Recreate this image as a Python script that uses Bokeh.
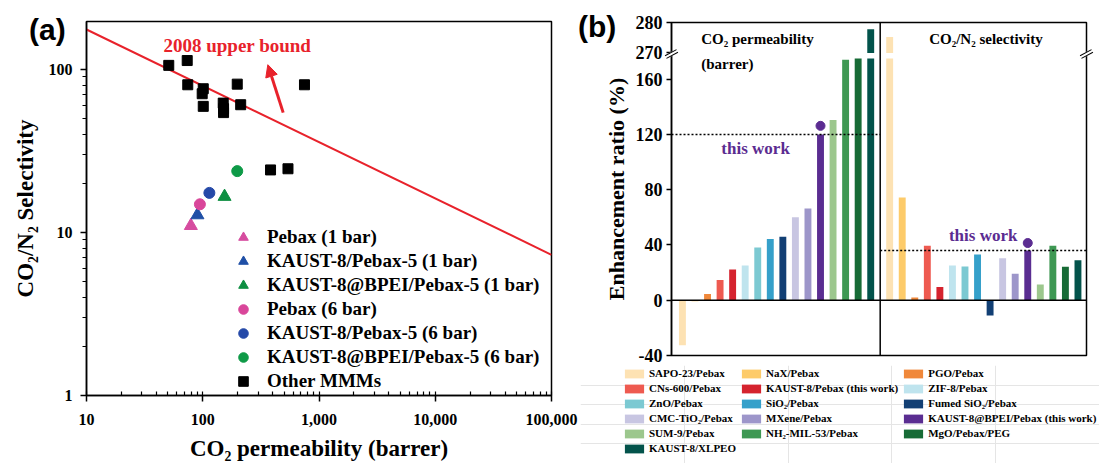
from bokeh.plotting import figure
from bokeh.models import (Legend, LegendItem, Arrow, NormalHead, Span, Div,
                          FixedTicker, NumeralTickFormatter, ColumnDataSource)
from bokeh.layouts import row, column
from bokeh.embed import file_html
from bokeh.resources import INLINE
from bokeh.core.properties import value

# ---------------- data: panel (a) ----------------
own_labels = ["Pebax (1 bar)", "KAUST-8/Pebax-5 (1 bar)", "KAUST-8@BPEI/Pebax-5 (1 bar)",
              "Pebax (6 bar)", "KAUST-8/Pebax-5 (6 bar)", "KAUST-8@BPEI/Pebax-5 (6 bar)"]
own_perm = [79, 90, 154, 94.5, 114, 198]
own_sel = [11.0, 12.8, 16.6, 14.9, 17.5, 23.8]
other_label = "Other MMMs"
other_perm = [51, 73.5, 74.3, 101, 98.9, 101, 150, 151, 151, 198, 212, 750, 383, 541]
other_sel = [106, 113.5, 80.6, 76.2, 71, 59.4, 62.2, 57.5, 54.4, 81.3, 60.8, 80.6, 24.2, 24.6]
bound_perm = [10, 100000]
bound_sel = [176, 7.3]

# ---------------- data: panel (b) ----------------
materials = ["SAPO-23/Pebax", "NaX/Pebax", "PGO/Pebax", "CNs-600/Pebax",
             "KAUST-8/Pebax (this work)", "ZIF-8/Pebax", "ZnO/Pebax", "SiO₂/Pebax",
             "Fumed SiO₂/Pebax", "CMC-TiO₂/Pebax", "MXene/Pebax",
             "KAUST-8@BPEI/Pebax (this work)", "SUM-9/Pebax", "NH₂-MIL-53/Pebax",
             "MgO/Pebax/PEG", "KAUST-8/XLPEO"]
perm_ratio = [-32.6, -0.7, 4.5, 14.6, 22.3, 25.1, 38.1, 44.3, 46.0, 60.1, 66.3,
              120.0, 130.5, 174.1, 174.9, 277.8]
sel_ratio = [275.2, 74.3, 1.9, 39.5, 9.6, 25.1, 24.4, 33.1, -11.0, 30.4, 19.2,
             36.0, 11.3, 39.5, 24.2, 29.0]
this_work_index = 11
this_work_marker = [126.2, 41.4]

# ---------------- styles ----------------
SERIF = "Liberation Serif"
SANS = "Liberation Sans"
RED = "#E8222B"
PURPLE = "#5B2C91"
own_markers = ["triangle", "triangle", "triangle", "circle", "circle", "circle"]
own_colors = ["#D64C9F", "#1F4FA6", "#0E8F42", "#D9469A", "#2549A8", "#0E9A47"]
bar_colors = ["#FDE2B3", "#FDCB6A", "#F0883A", "#EE5A50", "#D5232E", "#BFE4EE",
              "#7CC9D2", "#35A0CA", "#123F74", "#C8C6E2", "#9D96CA", "#5A2D91",
              "#9CC78D", "#3E9853", "#176B36", "#03534B"]

# ================= panel (a) =================
pa = figure(width=580, height=463, x_axis_type="log", y_axis_type="log",
            x_range=(10, 100000), y_range=(1, 197),
            output_backend="svg", toolbar_location=None,
            min_border_left=86, min_border_right=29, min_border_top=21, min_border_bottom=67)
pa.xgrid.visible = False
pa.ygrid.visible = False
pa.outline_line_color = "black"
pa.outline_line_width = 1.5
pa.outline_line_alpha = 1
pa.background_fill_color = "white"
pa.border_fill_color = "white"

for ax in (pa.xaxis[0], pa.yaxis[0]):
    ax.formatter = NumeralTickFormatter(format="0,0")
    ax.axis_line_width = 1.5
    ax.major_tick_line_width = 1.5
    ax.minor_tick_line_width = 1.2
    ax.major_tick_in = 0
    ax.major_label_text_font = SERIF
    ax.major_label_text_font_style = "bold"
    ax.major_label_text_font_size = "16px"
    ax.major_label_text_color = "black"
    ax.axis_label_text_font = SERIF
    ax.axis_label_text_font_style = "bold"
    ax.axis_label_text_font_size = "23px"
    ax.axis_label_text_color = "black"

xa = pa.xaxis[0]
xa.major_tick_out = 6
xa.minor_tick_in = 4
xa.minor_tick_out = 0
xa.major_label_standoff = 12
xa.axis_label_standoff = 8
xa.axis_label = "CO₂ permeability (barrer)"

ya = pa.yaxis[0]
ya.major_tick_out = 6
ya.minor_tick_out = 4
ya.minor_tick_in = 0
ya.major_label_standoff = 8
ya.axis_label_standoff = 8
ya.axis_label = "CO₂/N₂ Selectivity"

pa.line(bound_perm, bound_sel, line_color=RED, line_width=2)
pa.text(x=[45.9], y=[140], text=["2008 upper bound"], text_font=value(SERIF),
        text_font_style="bold", text_font_size="19px", text_color=RED,
        text_baseline="middle", text_align="left")
pa.add_layout(Arrow(end=NormalHead(size=12, fill_color=RED, line_color=RED, line_width=1),
                    x_start=492, y_start=54.4, x_end=363, y_end=107,
                    line_color=RED, line_width=3))

items_a = []
for lab, xv, yv, mk, col in zip(own_labels, own_perm, own_sel, own_markers, own_colors):
    r = pa.scatter([xv], [yv], marker=mk, size=13 if mk == "triangle" else 11,
                   fill_color=col, line_color=col)
    items_a.append(LegendItem(label=lab, renderers=[r]))
r_other = pa.scatter(other_perm, other_sel, marker="square", size=10,
                     fill_color="black", line_color="black")
items_a.append(LegendItem(label=other_label, renderers=[r_other]))

lga = Legend(items=items_a, location=(144, 2), glyph_width=26, glyph_height=24,
             label_height=24, label_standoff=11, spacing=0, padding=0, margin=0,
             border_line_color=None, background_fill_alpha=0,
             label_text_font=SERIF, label_text_font_style="bold",
             label_text_font_size="19px", label_text_color="black")
pa.add_layout(lga)

# ================= panel (b) =================
BRK_LO, BRK_HI, TOP, GAP, K = 175, 270, 280, 4, 2.2


def disp(v):
    if v <= BRK_LO:
        return v
    return round(BRK_LO + GAP + (v - BRK_HI) * K, 6)


n = len(materials)
lead = 0.87
group_gap = 1.51
perm_x = [lead + i for i in range(n)]
sel_x = [perm_x[-1] + group_gap + i for i in range(n)]
divider = (perm_x[-1] + sel_x[0]) / 2
x_end = sel_x[-1] + 0.68

pb = figure(width=519, height=365, x_range=(0, x_end), y_range=(-40, disp(TOP)),
            output_backend="svg", toolbar_location=None, x_axis_location=None,
            min_border_left=91, min_border_right=13, min_border_top=22, min_border_bottom=10)
pb.xgrid.visible = False
pb.ygrid.visible = False
pb.outline_line_color = "black"
pb.outline_line_width = 1.5
pb.outline_line_alpha = 1
pb.background_fill_color = "white"
pb.border_fill_color = "white"

ay = pb.yaxis[0]
ticks = [-40, 0, 40, 80, 120, 160, disp(270), disp(280)]
ay.ticker = FixedTicker(ticks=ticks, minor_ticks=[])
ay.major_label_overrides = {-40: "-40", disp(270): "270", disp(280): "280"}
ay.axis_line_width = 1.5
ay.major_tick_line_width = 1.5
ay.major_tick_in = 0
ay.major_tick_out = 5
ay.minor_tick_in = 0
ay.minor_tick_out = 0
ay.major_label_standoff = 4
ay.major_label_text_font = SERIF
ay.major_label_text_font_style = "bold"
ay.major_label_text_font_size = "18px"
ay.major_label_text_color = "black"
ay.axis_label = "Enhancement ratio (%)"
ay.axis_label_text_font = SERIF
ay.axis_label_text_font_style = "bold"
ay.axis_label_text_font_size = "22px"
ay.axis_label_text_color = "black"
ay.axis_label_standoff = 4

all_x = perm_x + sel_x
all_v = perm_ratio + sel_ratio
all_c = bar_colors + bar_colors
low_src = ColumnDataSource(dict(x=all_x, top=[min(v, BRK_LO) for v in all_v], color=all_c))
pb.vbar(x="x", top="top", bottom=0, width=0.55, fill_color="color",
        line_color=None, source=low_src)
hi = [(x, v, c) for x, v, c in zip(all_x, all_v, all_c) if v > BRK_LO]
hi_src = ColumnDataSource(dict(x=[h[0] for h in hi], top=[disp(h[1]) for h in hi],
                               color=[h[2] for h in hi]))
pb.vbar(x="x", top="top", bottom=BRK_LO + GAP, width=0.55, fill_color="color",
        line_color=None, source=hi_src)

pb.add_layout(Span(location=0, dimension="width", line_color="black", line_width=1.5))
pb.add_layout(Span(location=divider, dimension="height", line_color="black", line_width=1.5))

tw_vals = [perm_ratio[this_work_index], sel_ratio[this_work_index]]
pb.segment(x0=[0, divider], x1=[divider, x_end], y0=tw_vals, y1=tw_vals,
           line_color="black", line_width=1.5, line_dash="2 2")
pb.scatter([perm_x[this_work_index], sel_x[this_work_index]], this_work_marker,
           marker="circle", size=9, fill_color=PURPLE, line_color=PURPLE)

pb.text(x=[6.7, 24.83], y=[109.8, 46.5], text=["this work", "this work"],
        text_font=value(SERIF), text_font_style="bold", text_font_size="17px",
        text_color=PURPLE, text_align="center", text_baseline="middle")
pb.text(x=[2.37, 2.37], y=[189.1, 170.8], text=["CO₂ permeability", "(barrer)"],
        text_font=value(SERIF), text_font_style="bold", text_font_size="15px",
        text_color="black", text_align="left", text_baseline="middle")
pb.text(x=[25.05], y=[189.1], text=["CO₂/N₂ selectivity"],
        text_font=value(SERIF), text_font_style="bold", text_font_size="15px",
        text_color="black", text_align="center", text_baseline="middle")

# ---------- legend of panel (b), in its own strip below ----------
lf = figure(width=519, height=98, x_range=(0, 1), y_range=(0, 1),
            output_backend="svg", toolbar_location=None,
            x_axis_location=None, y_axis_location=None,
            min_border_left=0, min_border_right=0, min_border_top=0, min_border_bottom=0)
lf.outline_line_color = None
lf.outline_line_alpha = 0
lf.background_fill_color = "white"
lf.border_fill_color = "white"
key_src = ColumnDataSource(dict(x=[0.5] * n, top=[0.0] * n, color=bar_colors))
r_key = lf.vbar(x="x", top="top", bottom=0, width=0.01, fill_color="color",
                line_color=None, source=key_src)
items_b = [LegendItem(label=m, renderers=[r_key], index=i) for i, m in enumerate(materials)]
lgb = Legend(items=items_b, location=(42, 9), orientation="horizontal", ncols=3,
             glyph_width=24, glyph_height=11, label_height=11, label_standoff=3,
             spacing=3, padding=0, margin=0, border_line_color=None,
             background_fill_color=None, background_fill_alpha=0,
             label_text_font=SERIF, label_text_font_style="bold",
             label_text_font_size="11px", label_text_color="black")
lf.add_layout(lgb)


# ---------- panel letters and axis-break marks (page overlays) ----------
def letter(txt, left, top):
    return Div(text=txt, margin=0, styles={
        "position": "absolute", "left": f"{left}px", "top": f"{top}px",
        "font-family": SANS, "font-weight": "bold", "font-size": "30px",
        "line-height": "30px", "color": "black", "z-index": "10"})


def break_mark(cx, cy):
    return Div(text="", margin=0, width=13, height=4, styles={
        "position": "absolute", "left": f"{cx - 6.5}px", "top": f"{cy - 3.5}px",
        "border-top": "1.4px solid black", "border-bottom": "1.4px solid black",
        "background": "white", "transform": "rotate(-28deg)", "z-index": "10"})


overlays = [letter("(a)", 29, 15), letter("(b)", 578, 12),
            break_mark(671, 55), break_mark(1086, 55)]

layout = row(pa, column(pb, column(lf)), *overlays)
open("out.html", "w").write(file_html(layout, INLINE))
